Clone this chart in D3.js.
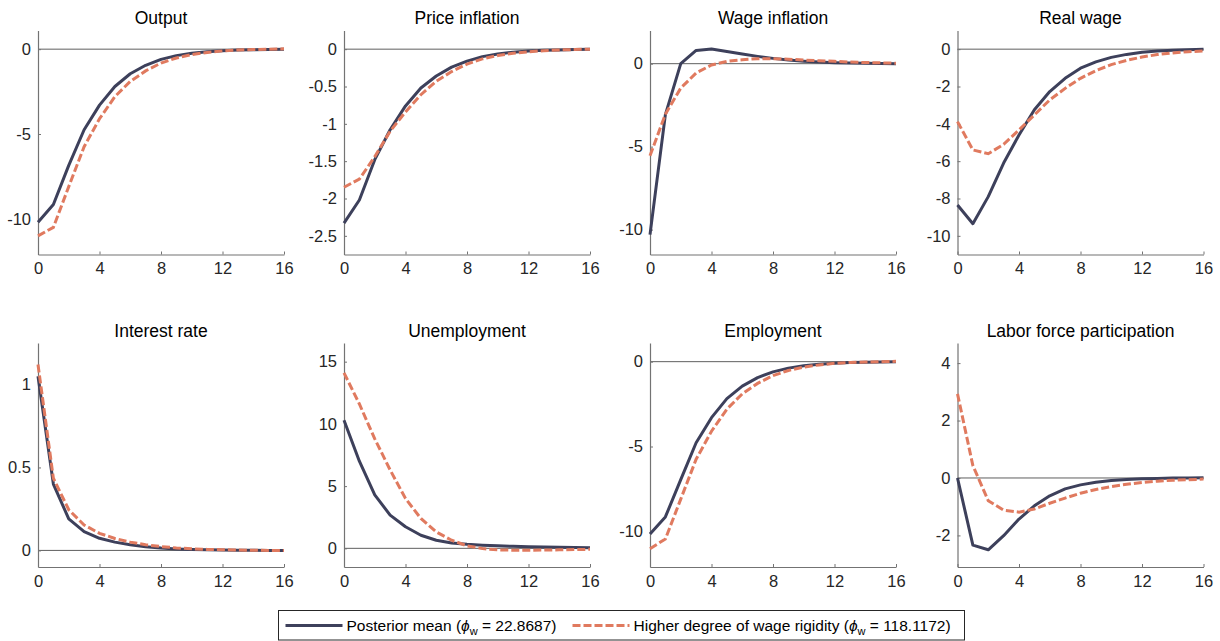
<!DOCTYPE html>
<html>
<head>
<meta charset="utf-8">
<script src="https://cdn.jsdelivr.net/npm/d3@7"></script>
<style>
  html, body { margin: 0; padding: 0; background: #ffffff; }
  svg { display: block; font-family: Arial, "Liberation Sans", sans-serif; }
</style>
</head>
<body>
<svg id="chart" width="1220" height="641"></svg>
<script>
// Impulse responses, quarters 0..16
const horizon = d3.range(0, 17);

const titles = ["Output", "Price inflation", "Wage inflation", "Real wage",
                "Interest rate", "Unemployment", "Employment", "Labor force participation"];

// Posterior mean (phi_w = 22.8687)
const outputBase   = [-10.2, -9.15, -6.85, -4.75, -3.3, -2.2, -1.45, -0.95, -0.6, -0.38, -0.24, -0.15, -0.09, -0.05, -0.03, -0.02, -0.01];
const priceBase    = [-2.33, -2.02, -1.48, -1.08, -0.76, -0.52, -0.36, -0.24, -0.16, -0.10, -0.065, -0.04, -0.025, -0.015, -0.01, -0.005, 0];
const wageInfBase  = [-10.3, -3.07, 0.0, 0.8, 0.88, 0.74, 0.58, 0.44, 0.32, 0.22, 0.15, 0.10, 0.06, 0.04, 0.02, 0.01, 0.0];
const realWageBase = [-8.35, -9.35, -7.9, -6.1, -4.6, -3.25, -2.27, -1.56, -1.02, -0.68, -0.44, -0.28, -0.17, -0.10, -0.06, -0.03, -0.01];
const rateBase     = [1.05, 0.40, 0.19, 0.113, 0.073, 0.05, 0.034, 0.022, 0.014, 0.009, 0.006, 0.004, 0.002, 0.001, 0.001, 0, 0];
const unempBase    = [10.3, 7.0, 4.3, 2.67, 1.73, 1.05, 0.65, 0.43, 0.32, 0.25, 0.20, 0.16, 0.13, 0.10, 0.08, 0.06, 0.05];
const emplBase     = [-10.15, -9.15, -6.95, -4.78, -3.3, -2.18, -1.44, -0.94, -0.6, -0.38, -0.24, -0.15, -0.09, -0.05, -0.03, -0.02, -0.01];
const lfpBase      = [0.0, -2.34, -2.5, -2.01, -1.43, -0.97, -0.62, -0.38, -0.24, -0.15, -0.09, -0.055, -0.03, -0.015, -0.005, 0, 0.005];

// Higher degree of wage rigidity (phi_w = 118.1172)
const outputRigid   = [-11.0, -10.5, -8.1, -5.75, -4.1, -2.8, -1.9, -1.28, -0.82, -0.52, -0.32, -0.19, -0.10, -0.05, -0.02, 0, 0.02];
const priceRigid    = [-1.85, -1.74, -1.44, -1.10, -0.84, -0.61, -0.43, -0.30, -0.20, -0.13, -0.085, -0.055, -0.035, -0.02, -0.01, -0.005, 0];
const wageInfRigid  = [-5.55, -3.05, -1.47, -0.56, -0.08, 0.14, 0.24, 0.30, 0.30, 0.27, 0.22, 0.18, 0.14, 0.10, 0.07, 0.05, 0.03];
const realWageRigid = [-3.88, -5.4, -5.6, -5.1, -4.33, -3.52, -2.72, -2.1, -1.56, -1.15, -0.83, -0.60, -0.42, -0.29, -0.20, -0.14, -0.10];
const rateRigid     = [1.12, 0.435, 0.245, 0.153, 0.103, 0.072, 0.05, 0.034, 0.023, 0.015, 0.01, 0.006, 0.004, 0.002, 0.001, 0, 0];
const unempRigid    = [14.1, 11.6, 8.8, 6.3, 4.0, 2.4, 1.32, 0.65, 0.2, -0.02, -0.12, -0.15, -0.15, -0.14, -0.12, -0.10, -0.08];
const emplRigid     = [-11.02, -10.45, -8.1, -5.75, -4.1, -2.8, -1.9, -1.28, -0.82, -0.52, -0.32, -0.19, -0.10, -0.05, -0.02, 0, 0.02];
const lfpRigid      = [2.93, 0.43, -0.79, -1.12, -1.19, -1.08, -0.88, -0.70, -0.53, -0.40, -0.30, -0.22, -0.16, -0.11, -0.08, -0.06, -0.04];

const baseSeries  = [outputBase, priceBase, wageInfBase, realWageBase, rateBase, unempBase, emplBase, lfpBase];
const rigidSeries = [outputRigid, priceRigid, wageInfRigid, realWageRigid, rateRigid, unempRigid, emplRigid, lfpRigid];

// Axis limits and tick labels per panel
const yLimits = [[-12.1, 1.1], [-2.75, 0.25], [-11.5, 2], [-11, 1],
                 [-0.1, 1.25], [-1.5, 16.5], [-12.1, 1.1], [-3.1, 4.7]];
const yTicks = [[-10, -5, 0], [-2.5, -2, -1.5, -1, -0.5, 0], [-10, -5, 0], [-10, -8, -6, -4, -2, 0],
                [0, 0.5, 1], [0, 5, 10, 15], [-10, -5, 0], [-2, 0, 2, 4]];
const xTicks = [0, 4, 8, 12, 16];

const legendLabels = [
  { name: "Posterior mean (", phi: "22.8687" },
  { name: "Higher degree of wage rigidity (", phi: "118.1172" }
];

const navy = "#3d405b";
const coral = "#e07a5f";
const axisColor = "#737373";
const textColor = "#262626";

const svg = d3.select("#chart");

const colLeft = [38, 344, 650, 957.5];
const plotW = 246;
const rowTop = [30.5, 343];
const plotH = 224;

titles.forEach((title, i) => {
  const col = i % 4, row = Math.floor(i / 4);
  const g = svg.append("g")
    .attr("transform", `translate(${colLeft[col]},${rowTop[row]})`);

  const x = d3.scaleLinear().domain([0, 16]).range([0, plotW]);
  const y = d3.scaleLinear().domain(yLimits[i]).range([plotH, 0]);

  // zero reference line
  g.append("line")
    .attr("x1", x(0)).attr("x2", x(16))
    .attr("y1", y(0)).attr("y2", y(0))
    .attr("stroke", "#4d4d4d").attr("stroke-width", 0.9);

  // axes
  const xAxis = g.append("g")
    .attr("transform", `translate(0,${plotH})`)
    .call(d3.axisBottom(x).tickValues(xTicks).tickSizeInner(-3).tickSizeOuter(0).tickPadding(8).tickFormat(d => String(d)));
  const yAxis = g.append("g")
    .call(d3.axisLeft(y).tickValues(yTicks[i]).tickSizeInner(-3).tickSizeOuter(0).tickPadding(7).tickFormat(d => String(d)));

  [xAxis, yAxis].forEach(ax => {
    ax.select(".domain").attr("stroke", axisColor).attr("stroke-width", 1.2);
    ax.selectAll(".tick line").attr("stroke", axisColor).attr("stroke-width", 1);
    ax.selectAll(".tick text")
      .attr("fill", textColor)
      .style("font-size", "16.5px")
      .style("font-family", "Arial, 'Liberation Sans', sans-serif");
  });
  xAxis.selectAll(".tick text").attr("dy", "0.71em");

  const line = d3.line()
    .x((d, k) => x(horizon[k]))
    .y(d => y(d));

  g.append("path")
    .datum(baseSeries[i])
    .attr("d", line)
    .attr("fill", "none")
    .attr("stroke", navy)
    .attr("stroke-width", 3)
    .attr("stroke-linejoin", "round");

  g.append("path")
    .datum(rigidSeries[i])
    .attr("d", line)
    .attr("fill", "none")
    .attr("stroke", coral)
    .attr("stroke-width", 3)
    .attr("stroke-dasharray", "8,3");

  g.append("text")
    .attr("x", plotW / 2)
    .attr("y", row === 0 ? -6.5 : -6)
    .attr("text-anchor", "middle")
    .attr("fill", "#000")
    .style("font-size", "17.5px")
    .text(title);
});

// Legend
const legend = svg.append("g").attr("transform", "translate(278.5,610.5)");
legend.append("rect")
  .attr("width", 686).attr("height", 29.5)
  .attr("fill", "#fff").attr("stroke", "#262626").attr("stroke-width", 1);

const legendItems = [
  { x: 7, color: navy, dash: null, label: legendLabels[0] },
  { x: 294, color: coral, dash: "8,3", label: legendLabels[1] }
];

legendItems.forEach(item => {
  legend.append("line")
    .attr("x1", item.x).attr("x2", item.x + 57)
    .attr("y1", 15).attr("y2", 15)
    .attr("stroke", item.color).attr("stroke-width", 3)
    .attr("stroke-dasharray", item.dash);
  const t = legend.append("text")
    .attr("x", item.x + 61).attr("y", 20)
    .attr("fill", "#000")
    .style("font-size", "15.5px");
  t.append("tspan").text(item.label.name);
  t.append("tspan").style("font-style", "italic").text("\u03d5");
  t.append("tspan").attr("dy", 4).style("font-size", "11px").text("w");
  t.append("tspan").attr("dy", -4).text(" = " + item.label.phi + ")");
});
</script>
</body>
</html>
